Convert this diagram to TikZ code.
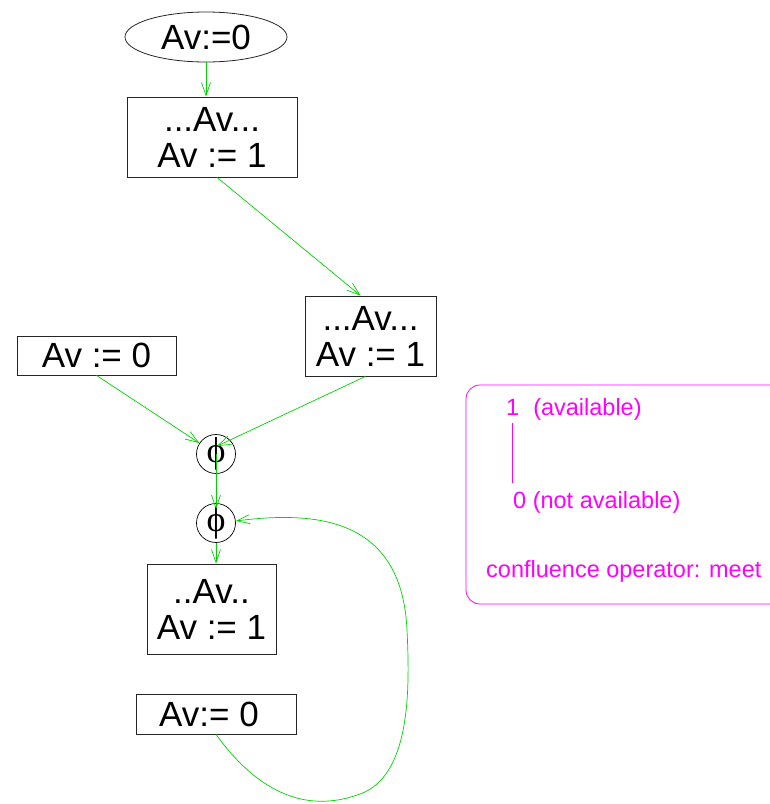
\documentclass[tikz,border=0pt]{standalone}
\usepackage{fontspec}
\setmainfont{Liberation Sans}
\newfontfamily\phifont{Liberation Serif}
\usetikzlibrary{arrows.meta,shapes.geometric}
\definecolor{fgreen}{RGB}{0,210,0}
\definecolor{fmag}{RGB}{255,0,255}
\tikzset{
  x=1pt,y=1pt,
  blk/.style={draw=black!85,line width=0.8pt,inner sep=0pt,align=center,
    font=\fontsize{35}{36}\selectfont},
  phinode/.style={draw=black,circle,line width=0.7pt,minimum size=39pt,inner sep=0pt,
    font=\fontsize{36}{36}\phifont},
  flow/.style={draw=fgreen,line width=0.7pt,-{Straight Barb[length=13pt,width=9pt]}},
  magtext/.style={text=fmag,font=\fontsize{23.5}{23.5}\selectfont,inner sep=0pt,anchor=west}
}
\begin{document}
\begin{tikzpicture}
\useasboundingbox (0,0) rectangle (770,-804);
\node[blk,ellipse,minimum width=162pt,minimum height=50pt] (ell) at (206,-37) {Av:=0};
\node[blk,minimum width=170pt,minimum height=80pt] (b1) at (212,-137) {...Av...\\Av := 1};
\node[blk,minimum width=131pt,minimum height=80pt] (b2) at (370.5,-336) {...Av...\\Av := 1};
\node[blk,minimum width=159pt,minimum height=39pt] (b3) at (96.5,-355.5) {Av := 0};
\node[phinode] (p1) at (216,-454) {ϕ};
\node[phinode] (p2) at (216,-523) {ϕ};
\node[blk,minimum width=129pt,minimum height=90pt] (b4) at (211.5,-609) {..Av..\\Av := 1};
\node[blk,minimum width=160pt,minimum height=40pt] (b5) at (216,-714) {Av:= 0\hspace{14pt}};

\draw[flow] (ell.south) -- (ell.south |- b1.north);
\draw[flow] ([xshift=5pt]b1.south) -- ([xshift=-10pt]b2.north);
\draw[flow] (b3.south) -- (p1);
\draw[flow] ([xshift=-5pt]b2.south) -- ([shift={(1pt,-12pt)}]p1.north);
\draw[flow] (p1.center) -- ([yshift=-6pt]p2.north);
\draw[flow] (p2.south) -- (p2.south |- b4.north);
\draw[flow] (b5.south) .. controls (260,-795) and (310,-815) .. (365,-792)
  .. controls (410,-770) and (410,-690) .. (407,-630)
  .. controls (402,-520) and (320,-510) .. ([yshift=2pt]p2.east);

% legend
\draw[fmag,line width=0.8pt,rounded corners=14pt] (466,-385) rectangle (800,-604);
\node[magtext] (l1) at (506,-409) {1\hspace{14pt}(available)};
\node[magtext] (l0) at (513,-502) {0 (not available)};
\node[magtext] (lc) at (486,-571) {confluence operator: meet};
\draw[fmag,line width=0.8pt] (512,-423) -- (512,-483);
\end{tikzpicture}
\end{document}
